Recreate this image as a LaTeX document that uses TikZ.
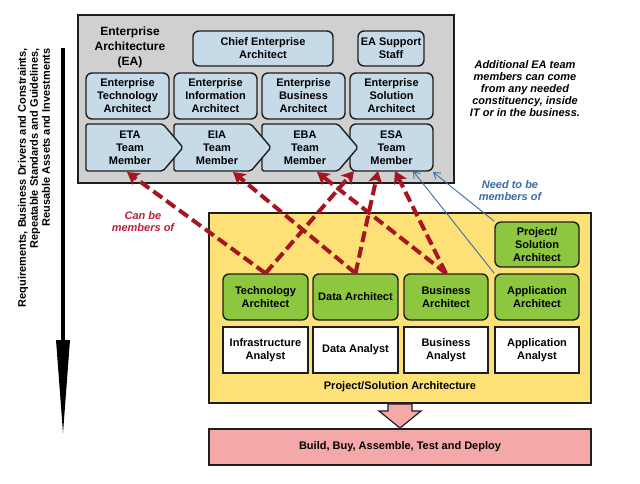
\documentclass[tikz,border=0pt]{standalone}
\usepackage{fontspec}
\setmainfont{Liberation Sans}
\usetikzlibrary{fit,arrows.meta}
\definecolor{eagrey}{RGB}{208,208,208}
\definecolor{eablue}{RGB}{198,218,232}
\definecolor{eagreen}{RGB}{141,198,63}
\definecolor{eayellow}{RGB}{253,225,118}
\definecolor{eapink}{RGB}{245,168,168}
\definecolor{eared}{RGB}{165,22,32}
\definecolor{eacan}{RGB}{190,30,60}
\definecolor{eablueline}{RGB}{58,108,165}
\definecolor{eaborder}{RGB}{30,30,30}
\begin{document}
\begin{tikzpicture}[x=1pt,y=-1pt,
  txt/.style={font=\bfseries\fontsize{11}{13}\selectfont, align=center, inner sep=0pt},
  bluebox/.style={txt, draw=eaborder, line width=1.4pt, fill=eablue, rounded corners=6pt},
  greenbox/.style={txt, draw=eaborder, line width=1.4pt, fill=eagreen, rounded corners=6pt, minimum height=46pt},
  whitebox/.style={txt, draw=eaborder, line width=1.4pt, fill=white, minimum height=46pt},
  chevron/.style={draw=eaborder, line width=1.4pt, fill=eablue, rounded corners=2pt},
  reddash/.style={draw=eared, line width=4pt, dash pattern=on 11pt off 5pt, -{Stealth[length=12pt,width=14pt,inset=3pt]}},
  bluearrow/.style={draw=eablueline, line width=0.9pt, -{Straight Barb[length=6pt,width=8pt]}}
]
\useasboundingbox (0,0) rectangle (640,483);
\fill[white] (0,0) rectangle (640,483);

% left arrow and text
\coordinate (la1) at (63,48);
\coordinate (la2) at (63,342);
\coordinate (latip) at (63,433);
\draw[line width=3.5pt] (la1) -- (la2);
\fill (56,340) -- (70,340) -- (latip) -- cycle;
\node[font=\bfseries\fontsize{11}{12}\selectfont, align=right, inner sep=0pt, rotate=90, anchor=east] (req) at (34,48)
  {Requirements, Business Drivers and Constraints,\\Repeatable Standards and Guidelines,\\Reusable Assets and Investments};

% EA box
\node[draw=eaborder, line width=1.4pt, fill=eagrey, inner sep=0pt, fit={(78,15)(454,183)}] (ea) {};
\node[font=\bfseries\fontsize{12}{15}\selectfont, align=center, inner sep=0pt] (eatitle) at (130,47) {Enterprise\\Architecture\\(EA)};
\node[bluebox, minimum width=140pt, minimum height=35pt] (chief) at (263,48.5) {Chief Enterprise\\Architect};
\node[bluebox, minimum width=66pt, minimum height=35pt] (support) at (391,48.5) {EA Support\\Staff};
\node[bluebox, minimum width=83pt, minimum height=46pt] (eta) at (127.5,96) {Enterprise\\Technology\\Architect};
\node[bluebox, minimum width=83pt, minimum height=46pt] (eia) at (215.5,96) {Enterprise\\Information\\Architect};
\node[bluebox, minimum width=83pt, minimum height=46pt] (eba) at (303.5,96) {Enterprise\\Business\\Architect};
\node[bluebox, minimum width=83pt, minimum height=46pt] (esa) at (391.5,96) {Enterprise\\Solution\\Architect};

% team member row
\node[bluebox, minimum width=83pt, minimum height=47pt] (esam) at (391.5,147.5) {ESA\\Team\\Member};
\draw[chevron] (262,124) -- (338,124) -- (358,147.5) -- (338,171) -- (262,171) -- cycle;
\draw[chevron] (174,124) -- (251,124) -- (271,147.5) -- (251,171) -- (174,171) -- cycle;
\draw[chevron] (86,124) -- (163,124) -- (183,147.5) -- (163,171) -- (86,171) -- cycle;
\node[txt] (etam) at (130,147.5) {ETA\\Team\\Member};
\node[txt] (eiam) at (217,147.5) {EIA\\Team\\Member};
\node[txt] (ebam) at (305,147.5) {EBA\\Team\\Member};

% note
\node[font=\bfseries\itshape\fontsize{11}{12}\selectfont, align=center, inner sep=0pt] (note) at (525,89)
  {Additional EA team\\members can come\\from any needed\\constituency, inside\\IT or in the business.};

% project/solution box
\node[draw=eaborder, line width=1.4pt, fill=eayellow, inner sep=0pt, fit={(209,213)(591,403)}] (psbox) {};
\node[greenbox, minimum width=84pt, minimum height=45pt] (psa) at (537,244.5) {Project/\\Solution\\Architect};
\node[greenbox, minimum width=85pt] (ta) at (265.5,297) {Technology\\Architect};
\node[greenbox, minimum width=85pt] (da) at (355.5,297) {Data Architect};
\node[greenbox, minimum width=84pt] (ba) at (446,297) {Business\\Architect};
\node[greenbox, minimum width=84pt] (aa) at (537,297) {Application\\Architect};
\node[whitebox, minimum width=85pt] (ian) at (265.5,350) {Infrastructure\\Analyst};
\node[whitebox, minimum width=85pt] (dan) at (355.5,350) {Data Analyst};
\node[whitebox, minimum width=84pt] (ban) at (446,350) {Business\\Analyst};
\node[whitebox, minimum width=84pt] (aan) at (537,350) {Application\\Analyst};
\node[txt] (pstitle) at (400,387) {Project/Solution Architecture};

% build box and arrow
\draw[draw=eaborder, line width=1.2pt, fill=eapink] (388,404) -- (412,404) -- (412,411) -- (421,411) -- (400,428) -- (379,411) -- (388,411) -- cycle;
\node[draw=eaborder, line width=1.4pt, fill=eapink, inner sep=0pt, fit={(209,429)(591,465)}] (build) {};
\node[txt] (buildtxt) at (400,447) {Build, Buy, Assemble, Test and Deploy};

% labels
\node[font=\bfseries\itshape\fontsize{11}{12}\selectfont, align=center, inner sep=0pt, text=eacan] (canbe) at (143,222) {Can be\\members of};
\node[font=\bfseries\itshape\fontsize{11}{12}\selectfont, align=center, inner sep=0pt, text=eablueline] (needbe) at (510,191) {Need to be\\members of};

% red dashed arrows
\coordinate (t1) at (127,172);
\coordinate (t2) at (233,172);
\coordinate (t3) at (317,172);
\coordinate (s1) at (354,171);
\coordinate (s2) at (378,171);
\coordinate (s3) at (395,171);
\draw[reddash] (ta.north) -- (t1);
\draw[reddash] (ta.north) -- (s1);
\draw[reddash] (da.north) -- (t2);
\draw[reddash] (da.north) -- (s2);
\draw[reddash] (ba.north) -- (t3);
\draw[reddash] (ba.north) -- (s3);

% blue arrows
\coordinate (b1) at (433,172);
\coordinate (b2) at (413,171);
\draw[bluearrow] (psa.north west) -- (b1);
\draw[bluearrow] (aa.north west) -- (b2);
\end{tikzpicture}
\end{document}
